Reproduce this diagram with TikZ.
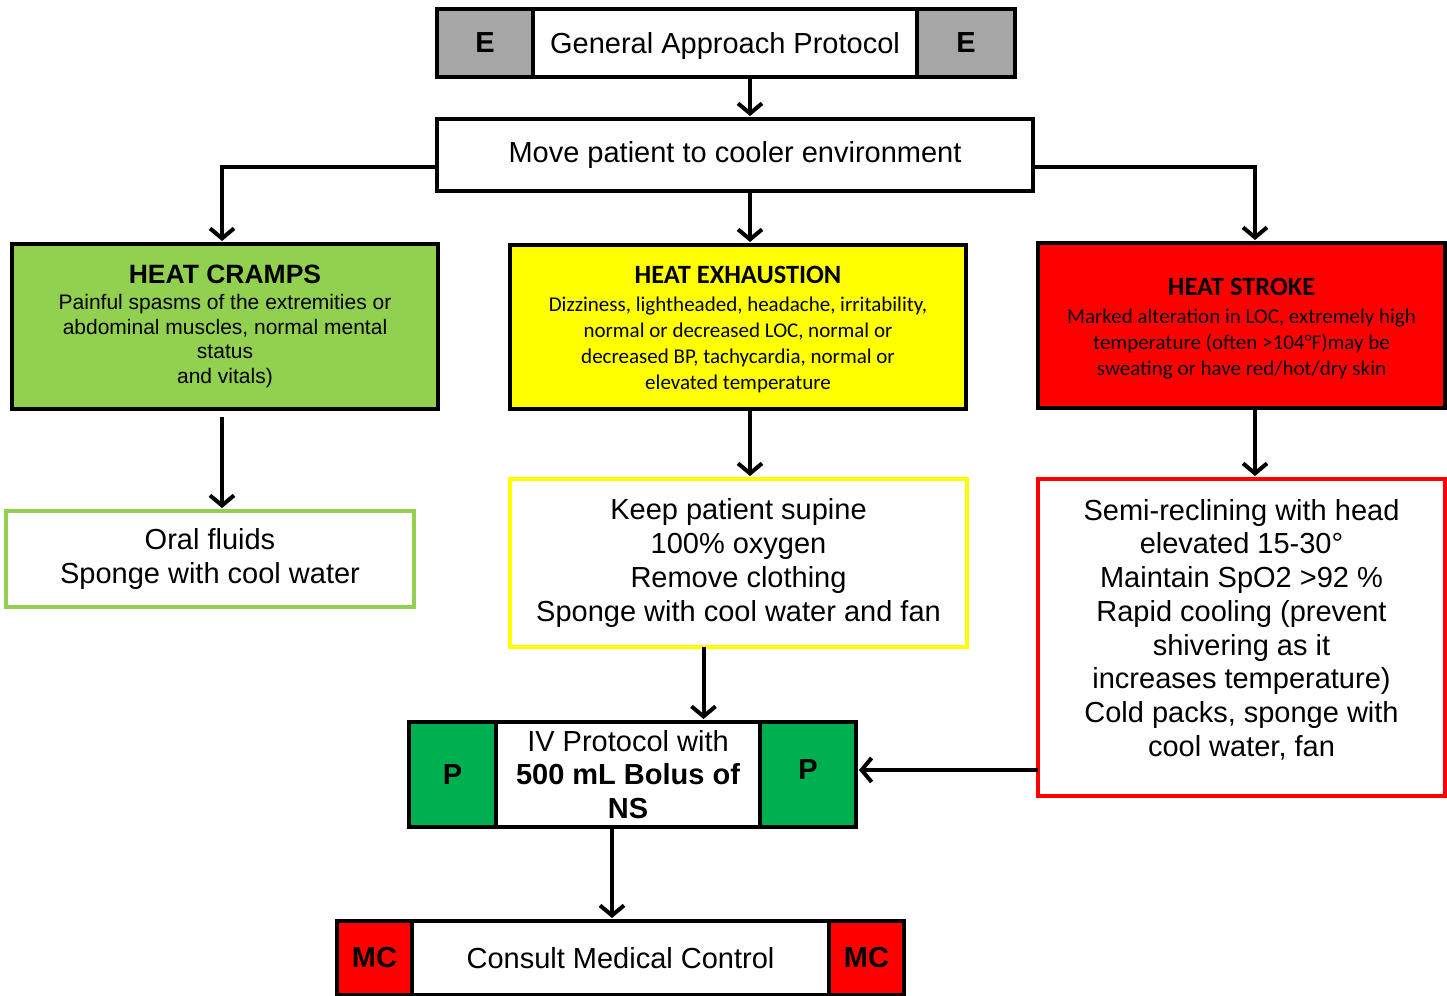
\documentclass[tikz,border=0pt]{standalone}
\usepackage{fontspec}
\setmainfont{Liberation Sans}
\newfontfamily\calfont{Carlito}
\usetikzlibrary{arrows.meta}
\definecolor{greyE}{HTML}{A6A6A6}
\definecolor{lgreen}{HTML}{92D050}
\definecolor{dgreen}{HTML}{00B050}
\definecolor{myred}{HTML}{FF0000}
\definecolor{myyellow}{HTML}{FFFF00}
\begin{document}
\begin{tikzpicture}[x=1pt,y=-1pt,
  box/.style={draw, line width=4pt, inner sep=0pt, outer sep=0pt, anchor=north west, align=center},
  big/.style={font=\fontsize{29}{33.7}\selectfont},
  bigb/.style={font=\fontsize{29}{33.7}\selectfont\bfseries},
  one/.style={text depth=0pt},
  small/.style={font=\fontsize{21}{24.7}\selectfont},
  calsmall/.style={font=\calfont\fontsize{21}{26}\selectfont},
  arr/.style={line width=4pt, -{Straight Barb[length=10pt,width=24pt]}, shorten >=3pt}]
\useasboundingbox (0,0) rectangle (1447,995);
% top bar
\node[box, fill=greyE, minimum width=96pt, minimum height=68pt, bigb] (eL) at (437,9) {E};
\node[box, fill=white, minimum width=384pt, minimum height=68pt, big, one] (eM) at (533,9) {General Approach Protocol};
\node[box, fill=greyE, minimum width=98pt, minimum height=68pt, bigb] (eR) at (917,9) {E};
% move
\node[box, fill=white, minimum width=596pt, minimum height=72pt, big] (move) at (437,119) {Move patient to cooler environment};
% heat boxes
\node[box, fill=lgreen, minimum width=426pt, minimum height=165pt, small] (cramps) at (12,244)
 {{\fontsize{26.5}{27}\selectfont\bfseries HEAT CRAMPS}\\[1pt]
  Painful spasms of the extremities or\\ abdominal muscles, normal mental\\ status\\ and vitals)};
\node[box, fill=myyellow, minimum width=456pt, minimum height=164pt] (exh) at (510,245) {};
\node[calsmall, align=center, inner sep=0pt] (exhtext) at ([yshift=-3pt]exh.center)
 {{\fontsize{26.4}{29}\selectfont\bfseries HEAT EXHAUSTION}\\[2pt]
  Dizziness, lightheaded, headache, irritability,\\ normal or decreased LOC, normal or\\ decreased BP, tachycardia, normal or\\ elevated temperature};
\node[box, fill=myred, minimum width=407pt, minimum height=165pt] (stroke) at (1038,243) {};
\node[calsmall, align=center, inner sep=0pt] (stroketext) at ([yshift=-3.5pt]stroke.center)
 {{\fontsize{26.4}{29}\selectfont\bfseries HEAT STROKE}\\[2pt]
  Marked alteration in LOC, extremely high\\ temperature (often >104°F)may be\\ sweating or have red/hot/dry skin};
% treatment boxes
\node[box, draw=lgreen, fill=white, minimum width=408pt, minimum height=96pt, big] (oral) at (6,511)
 {Oral fluids\\ Sponge with cool water};
\node[box, draw=myyellow, fill=white, minimum width=457pt, minimum height=168pt, big] (keep) at (510,479)
 {Keep patient supine\\ 100\% oxygen\\ Remove clothing\\ Sponge with cool water and fan};
\node[box, draw=myred, fill=white, minimum width=407pt, minimum height=317pt] (semi) at (1038,479) {};
\node[big, align=center, inner sep=0pt] (semitext) at ([yshift=8pt]semi.center)
 {Semi-reclining with head\\ elevated 15-30°\\ Maintain SpO2 >92 \%\\ Rapid cooling (prevent\\ shivering as it\\ increases temperature)\\ Cold packs, sponge with\\ cool water, fan};
% IV bar
\node[box, fill=dgreen, minimum width=87pt, minimum height=105pt, bigb] (pL) at (409,722) {P};
\node[box, fill=white, minimum width=264pt, minimum height=105pt, big] (iv) at (496,722)
 {IV Protocol with\\ \bfseries 500 mL Bolus of\\ \bfseries NS};
\node[box, fill=dgreen, minimum width=96pt, minimum height=105pt, bigb] (pR) at (760,722) {\raisebox{9.5pt}{P}};
% MC bar
\node[box, fill=myred, minimum width=75pt, minimum height=74pt, bigb] (mL) at (337,921) {MC};
\node[box, fill=white, minimum width=417pt, minimum height=74pt, big, one] (mc) at (412,921) {Consult Medical Control};
\node[box, fill=myred, minimum width=75pt, minimum height=74pt, bigb] (mR) at (829,921) {MC};
% connectors
\draw[arr] ([xshift=25pt]eM.south) -- ([xshift=15pt]move.north);
\draw[arr] ([yshift=-12pt]move.west) -| ([xshift=-3pt]cramps.north);
\draw[arr] ([yshift=-12pt]move.east) -| ([xshift=13.5pt]stroke.north);
\draw[arr] ([xshift=15pt]move.south) -- ([xshift=12pt]exh.north);
\draw[arr] ([xshift=-3pt,yshift=-8pt]cramps.south) -- ([xshift=-3pt]cramps.south |- oral.north);
\draw[arr] ([xshift=12pt]exh.south) -- ([xshift=12pt]exh.south |- keep.north);
\draw[arr] ([xshift=13.5pt]stroke.south) -- ([xshift=13.5pt]stroke.south |- semi.north);
\draw[arr] ([xshift=-35pt]keep.south) -- ([xshift=-35pt]keep.south |- iv.north);
\draw[arr] ([yshift=4.5pt]semi.west |- pR.east) -- ([yshift=4.5pt]pR.east);
\draw[arr] ([xshift=-16pt]iv.south) -- ([xshift=-16pt]iv.south |- mc.north);
\end{tikzpicture}
\end{document}
